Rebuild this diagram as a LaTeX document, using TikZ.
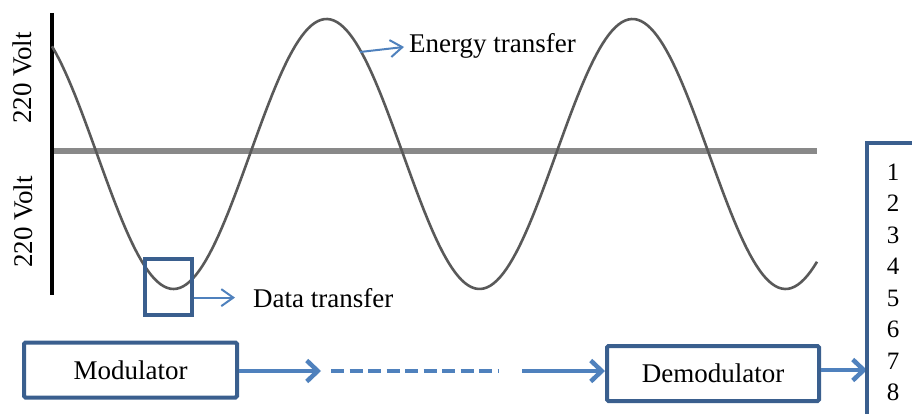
\documentclass[tikz,border=0pt]{standalone}
\usepackage{fontspec}
\setmainfont{Liberation Serif}
\usetikzlibrary{positioning,arrows.meta}

\definecolor{boxblue}{HTML}{3A5F8E}
\definecolor{arrblue}{HTML}{4F81BD}
\definecolor{axgray}{HTML}{898989}
\definecolor{wavegray}{HTML}{595959}

\begin{document}
\begin{tikzpicture}[x=1pt, y=-1pt,
  lbl/.style={font=\fontsize{27}{32}\selectfont, inner sep=0pt},
  digit/.style={font=\fontsize{25}{30}\selectfont, inner sep=0pt, anchor=base},
  blockbox/.style={draw=boxblue, line width=4pt, rounded corners=1.5pt, inner sep=0pt,
                   font=\fontsize{27}{32}\selectfont, minimum height=55pt},
  bigarrow/.style={draw=arrblue, line width=4.5pt, -{Straight Barb[length=11pt,width=21pt]}},
  thinarrow/.style={draw=arrblue, line width=2pt, -{Straight Barb[length=12pt,width=17pt]}}]
  \useasboundingbox (0,0) rectangle (912,414);

  % axes and wave
  \draw[axgray, line width=6pt] (52,151.5) -- (817,151.5);
  \draw[black, line width=3.5pt] (52,13) -- (52,295);
  \draw[wavegray, line width=2.6pt, samples=240, domain=52:817]
    plot (\x, {154+135*sin((\x-97)/306*360)});
  \node[lbl, rotate=90] (vup) at (22,78)  {220 Volt};
  \node[lbl, rotate=90] (vdn) at (23,222) {220 Volt};

  % labels on the wave
  \node[draw=boxblue, line width=3.5pt, minimum width=47pt, minimum height=56pt] (win) at (168.5,287) {};
  \node[lbl, anchor=base west] (dat) at (253,307) {Data transfer};
  \node[lbl, anchor=base west] (eng) at (409,53) {Energy transfer};
  \coordinate (etip) at (360,52);
  \draw[thinarrow, shorten >=18pt] (win.east |- dat.west) -- (dat.west);
  \draw[thinarrow, shorten >=5pt] (etip) -- (eng.west);

  % blocks
  \node[blockbox, minimum width=213pt] (mod) at (130.5,370) {Modulator};
  \node[blockbox, minimum width=212pt] (dem) at (713,373.5) {Demodulator};
  \coordinate (c1) at (321,371);
  \coordinate (c2) at (331,371);
  \coordinate (c3) at (499,371);
  \coordinate (c4) at (522,371);
  \coordinate (brk) at (867,143);
  \draw[bigarrow] (mod.east |- c1) -- (c1);
  \draw[arrblue, line width=4.5pt, dash pattern=on 13pt off 5.5pt] (c2) -- (c3);
  \draw[bigarrow] (c4) -- (c4 -| dem.west);
  \draw[bigarrow] (dem.east |- 0,370) -- (brk |- 0,370);

  % output bracket
  \draw[boxblue, line width=4pt] (brk |- 0,420) -- (brk) -- (915,143);
  \foreach \i in {1,...,8}
    \node[digit] (d\i) at (893,{180+31.5*(\i-1)}) {\i};
\end{tikzpicture}
\end{document}
